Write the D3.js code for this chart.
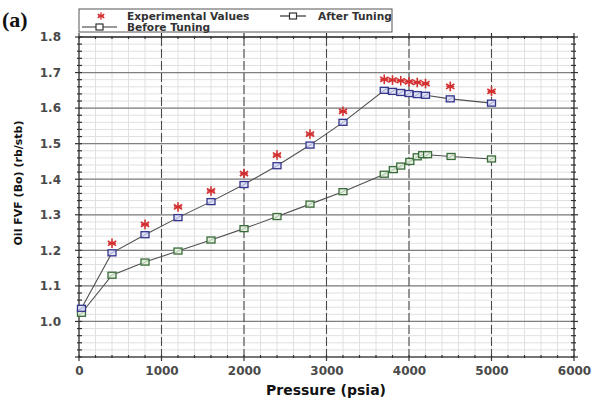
<!DOCTYPE html>
<html>
<head>
<meta charset="utf-8">
<script src="https://cdn.jsdelivr.net/npm/d3@7/dist/d3.min.js"></script>
<style>
  html, body { margin: 0; padding: 0; background: #fff; }
  svg { display: block; }
</style>
</head>
<body>
<svg id="chart" width="593" height="401"></svg>
<script>
// Oil formation volume factor vs pressure
const pressureTuned = [30, 400, 800, 1200, 1600, 2000, 2400, 2800, 3200, 3700, 3800, 3900, 4000, 4100, 4200, 4500, 5000];
const boAfter       = [1.037, 1.193, 1.244, 1.292, 1.337, 1.385, 1.438, 1.496, 1.560, 1.650, 1.647, 1.644, 1.641, 1.638, 1.636, 1.626, 1.614];

const pressureBefore = [30, 400, 800, 1200, 1600, 2000, 2400, 2800, 3200, 3700, 3810, 3900, 4010, 4100, 4165, 4225, 4510, 5000];
const boBefore       = [1.023, 1.130, 1.167, 1.198, 1.229, 1.261, 1.295, 1.330, 1.365, 1.414, 1.427, 1.437, 1.450, 1.463, 1.469, 1.469, 1.464, 1.457];

const pressureExp = [400, 800, 1200, 1600, 2000, 2400, 2800, 3200, 3700, 3800, 3900, 4000, 4100, 4200, 4500, 5000];
const boExp       = [1.220, 1.273, 1.322, 1.367, 1.416, 1.468, 1.527, 1.591, 1.681, 1.679, 1.677, 1.674, 1.672, 1.669, 1.661, 1.647];

const xTicks = [0, 1000, 2000, 3000, 4000, 5000, 6000];
const yTicks = [1.0, 1.1, 1.2, 1.3, 1.4, 1.5, 1.6, 1.7, 1.8];

const svg = d3.select("#chart");
const plotL = 79, plotR = 574, plotT = 37, plotB = 357;

const x = d3.scaleLinear().domain([0, 6000]).range([plotL, plotR]);
const y = d3.scaleLinear().domain([0.9, 1.8]).range([plotB, plotT]);

const g = svg.append("g");

// minor grid
const xMinor = d3.range(0, 6001, 200);
const yMinor = d3.range(0, 46).map(i => +(0.9 + i * 0.02).toFixed(2));
g.append("g").selectAll("line").data(xMinor).join("line")
  .attr("x1", d => x(d)).attr("x2", d => x(d))
  .attr("y1", plotT).attr("y2", plotB)
  .attr("stroke", "#e0e0e0").attr("stroke-width", 1);
g.append("g").selectAll("line").data(yMinor).join("line")
  .attr("x1", plotL).attr("x2", plotR)
  .attr("y1", d => y(d)).attr("y2", d => y(d))
  .attr("stroke", "#e0e0e0").attr("stroke-width", 1);

// major grid
g.append("g").selectAll("line").data(yTicks).join("line")
  .attr("x1", plotL).attr("x2", plotR)
  .attr("y1", d => y(d)).attr("y2", d => y(d))
  .attr("stroke", "#808080").attr("stroke-width", 1.3);
g.append("g").selectAll("line").data(xTicks.slice(1, -1)).join("line")
  .attr("x1", d => x(d)).attr("x2", d => x(d))
  .attr("y1", plotT).attr("y2", plotB)
  .attr("stroke", "#4a4a4a").attr("stroke-width", 1.1)
  .attr("stroke-dasharray", "9,3");

// frame
g.append("rect").attr("x", plotL).attr("y", plotT)
  .attr("width", plotR - plotL).attr("height", plotB - plotT)
  .attr("fill", "none").attr("stroke", "#333").attr("stroke-width", 1.3);

// axes
const axisFont = "DejaVu Sans, Verdana, sans-serif";
const xAxis = d3.axisBottom(x).tickValues(xTicks).tickSize(0).tickPadding(9).tickFormat(d3.format("d"));
const yAxis = d3.axisLeft(y).tickValues(yTicks).tickSize(0).tickPadding(18).tickFormat(d3.format(".1f"));
const gx = svg.append("g").attr("transform", `translate(0,${plotB})`).call(xAxis);
const gy = svg.append("g").attr("transform", `translate(${plotL},0)`).call(yAxis);
[gx, gy].forEach(a => {
  a.select(".domain").remove();
  a.selectAll("text").attr("font-family", axisFont).attr("font-size", 12)
    .attr("font-weight", "bold").attr("fill", "#4a4a4a");
});

// tick marks on all four sides
const tickG = svg.append("g").attr("stroke", "#333").attr("stroke-width", 1.2);
xMinor.forEach(d => {
  const major = d % 1000 === 0;
  tickG.append("line").attr("x1", x(d)).attr("x2", x(d))
    .attr("y1", plotB - 2).attr("y2", plotB + (major ? 4 : 1));
  tickG.append("line").attr("x1", x(d)).attr("x2", x(d))
    .attr("y1", plotT - (major ? 4 : 1)).attr("y2", plotT + 2);
});
yMinor.forEach(d => {
  const major = Math.abs(d * 10 - Math.round(d * 10)) < 1e-6;
  tickG.append("line").attr("x1", plotL - (major ? 4 : 2)).attr("x2", plotL + 3)
    .attr("y1", y(d)).attr("y2", y(d));
  tickG.append("line").attr("x1", plotR - 3).attr("x2", plotR + (major ? 4 : 2))
    .attr("y1", y(d)).attr("y2", y(d));
});

// series lines
const line = (xs, ys) => d3.line().x((d, i) => x(xs[i])).y(d => y(d))(ys);
svg.append("path").attr("d", line(pressureBefore, boBefore))
  .attr("fill", "none").attr("stroke", "#505050").attr("stroke-width", 1.1);
svg.append("path").attr("d", line(pressureTuned, boAfter))
  .attr("fill", "none").attr("stroke", "#505050").attr("stroke-width", 1.1);

// square markers
function squares(xs, ys, stroke, fill) {
  const w = 8, h = 6;
  const mg = svg.append("g");
  ys.forEach((v, i) => {
    const cx = x(xs[i]), cy = y(v);
    mg.append("rect").attr("x", cx - w / 2).attr("y", cy - h / 2)
      .attr("width", w).attr("height", h)
      .attr("fill", fill).attr("stroke", stroke).attr("stroke-width", 1.3);
    mg.append("line").attr("x1", cx - w / 2 + 1).attr("y1", cy + h / 2 - 1)
      .attr("x2", cx + w / 2 - 1).attr("y2", cy - h / 2 + 1)
      .attr("stroke", stroke).attr("stroke-width", 0.6).attr("opacity", 0.6);
  });
}
squares(pressureBefore, boBefore, "#3a6b3a", "#e4efe0");
squares(pressureTuned, boAfter, "#33358a", "#dfe2f4");

// asterisk markers
function star(gr, cx, cy, r) {
  const angles = [90, 30, 150];
  angles.forEach(a => {
    const t = a * Math.PI / 180;
    gr.append("line")
      .attr("x1", cx - r * Math.cos(t)).attr("y1", cy - r * Math.sin(t))
      .attr("x2", cx + r * Math.cos(t)).attr("y2", cy + r * Math.sin(t));
  });
  gr.append("line").attr("x1", cx - r * 0.8).attr("x2", cx + r * 0.8)
    .attr("y1", cy).attr("y2", cy);
}
const starG = svg.append("g").attr("stroke", "#d32f2f").attr("stroke-width", 1.6);
boExp.forEach((v, i) => star(starG, x(pressureExp[i]), y(v), 4.8));

// legend
const lg = svg.append("g");
lg.append("rect").attr("x", 79).attr("y", 9).attr("width", 313).attr("height", 23)
  .attr("fill", "#fff").attr("stroke", "#555").attr("stroke-width", 1);
function legText(tx, ty, s) {
  lg.append("text").attr("x", tx).attr("y", ty).text(s)
    .attr("font-family", axisFont).attr("font-size", 10.6)
    .attr("font-weight", "bold").attr("fill", "#333");
}
const lStar = lg.append("g").attr("stroke", "#d32f2f").attr("stroke-width", 1.3);
star(lStar, 101, 16, 3.8);
legText(127, 20, "Experimental Values");
function legLine(x1, x2, cy) {
  lg.append("line").attr("x1", x1).attr("x2", x2).attr("y1", cy).attr("y2", cy)
    .attr("stroke", "#333").attr("stroke-width", 1.2);
  const mx = (x1 + x2) / 2;
  lg.append("rect").attr("x", mx - 3.5).attr("y", cy - 3).attr("width", 7).attr("height", 6)
    .attr("fill", "#fff").attr("stroke", "#333").attr("stroke-width", 1.2);
}
legLine(280, 306, 16);
legText(318, 20, "After Tuning");
legLine(82, 117, 27);
legText(127, 31, "Before Tuning");

// panel letter
svg.append("text").attr("x", 2).attr("y", 27).text("(a)")
  .attr("font-family", "Liberation Serif, Times New Roman, serif")
  .attr("font-size", 22).attr("font-weight", "bold").attr("fill", "#111");

// axis titles
svg.append("text").attr("x", 326).attr("y", 395).attr("text-anchor", "middle")
  .text("Pressure (psia)")
  .attr("font-family", axisFont).attr("font-size", 14).attr("font-weight", "bold").attr("fill", "#111");
svg.append("text").attr("transform", "translate(22,183) rotate(-90)")
  .attr("text-anchor", "middle").text("Oil FVF (Bo) (rb/stb)")
  .attr("font-family", axisFont).attr("font-size", 11).attr("font-weight", "bold").attr("fill", "#111");
</script>
</body>
</html>
